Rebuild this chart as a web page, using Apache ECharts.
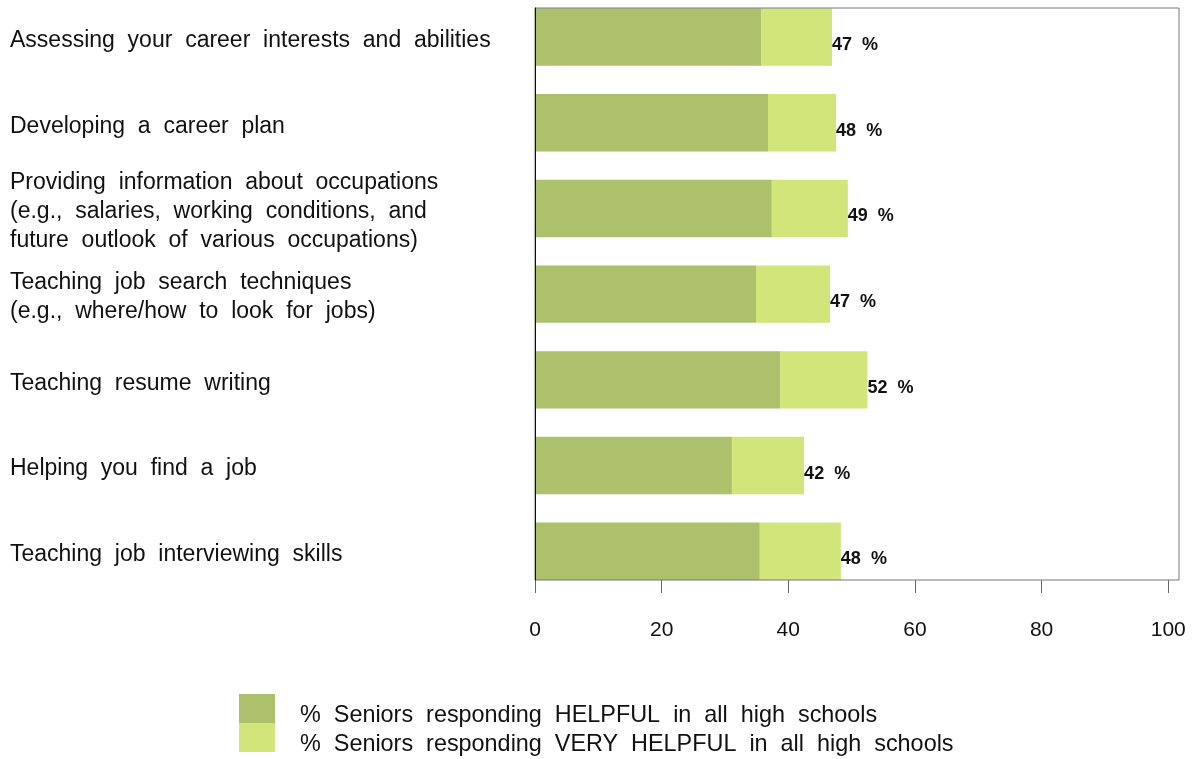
<!DOCTYPE html>
<html>
<head>
<meta charset="utf-8">
<script src="https://cdn.jsdelivr.net/npm/echarts@6/dist/echarts.min.js"></script>
<style>
html,body{margin:0;padding:0;background:#fff;overflow:hidden;width:1195px;height:759px;}
#chart{position:absolute;left:0;top:-20px;width:1195px;height:779px;}
</style>
</head>
<body>
<div id="chart"></div>
<script>
var categories = [
  "Assessing your career interests and abilities",
  "Developing a career plan",
  "Providing information about occupations\n(e.g., salaries, working conditions, and\nfuture outlook of various occupations)",
  "Teaching job search techniques\n(e.g., where/how to look for jobs)",
  "Teaching resume writing",
  "Helping you find a job",
  "Teaching job interviewing skills"
];
var helpful = [35.7, 36.8, 37.4, 34.9, 38.7, 31.1, 35.5];
var veryHelpful = [11.2, 10.75, 12.0, 11.7, 13.8, 11.4, 12.8];
var totalLabels = [47, 48, 49, 47, 52, 42, 48];
var xTicks = [0, 20, 40, 60, 80, 100];
var seriesNames = [
  "% Seniors responding HELPFUL in all high schools",
  "% Seniors responding VERY HELPFUL in all high schools"
];
var colors = ['#adc06b', '#d1e57b'];

var FONT = "'Liberation Sans', Arial, sans-serif";
function spaced(s){ return s.replace(/ /g, '  '); }

var chart = echarts.init(document.getElementById('chart'), null, {renderer:'canvas'});
function legendFor(i, top){
  return {
    orient: 'vertical', left: 239, top: top, padding: 0,
    itemWidth: 36, itemHeight: 29, itemGap: 0, icon: 'rect',
    data: [seriesNames[i]],
    formatter: function(n){ return '{s| }\n{t|' + spaced(n) + '}'; },
    textStyle: {
      fontSize: 23.4, color: '#111', fontFamily: FONT, padding: [0, 0, 0, 20],
      rich: {
        s: {fontSize: 2, lineHeight: 15, height: 15},
        t: {fontSize: 23.4, lineHeight: 27, color: '#111', fontFamily: FONT}
      }
    }
  };
}
chart.setOption({
  backgroundColor: '#ffffff',
  animation: false,
  color: colors,
  textStyle: {fontFamily: FONT},
  grid: [
    {left: 535, right: 16, top: 28, bottom: 179, show: true, borderColor: '#777', borderWidth: 1, z: 5, containLabel: false},
    {left: 535, right: 16, top: 14.15, bottom: 164.85, containLabel: false}
  ],
  xAxis: [
    {
      gridIndex: 0, type: 'value', min: 0, max: 101.7, offset: 2,
      axisLine: {show: false},
      axisTick: {show: true, length: 13, customValues: xTicks, lineStyle: {color: '#666', width: 1}},
      axisLabel: {customValues: xTicks, margin: 38, fontSize: 21, color: '#111', fontFamily: FONT},
      splitLine: {show: false}
    },
    {
      gridIndex: 1, type: 'value', min: 0, max: 101.7,
      axisLine: {show: false}, axisTick: {show: false}, axisLabel: {show: false}, splitLine: {show: false}
    }
  ],
  yAxis: [
    {
      gridIndex: 0, type: 'value', min: 0, max: 1, z: 6,
      axisLine: {show: true, lineStyle: {color: '#111', width: 1}},
      axisTick: {show: false}, axisLabel: {show: false}, splitLine: {show: false}
    },
    {
      gridIndex: 1, type: 'category', inverse: true, data: categories,
      axisLine: {show: false}, axisTick: {show: false}, splitLine: {show: false},
      axisLabel: {
        align: 'left', margin: 525, fontSize: 23, lineHeight: 29, color: '#111', fontFamily: FONT,
        formatter: function(v){ return '{s| }\n{t|' + spaced(v) + '}'; },
        rich: {
          s: {fontSize: 2, lineHeight: 7, height: 7},
          t: {fontSize: 23, lineHeight: 29, color: '#111', fontFamily: FONT}
        }
      }
    }
  ],
  legend: [legendFor(0, 707.5), legendFor(1, 736.5)],
  series: [
    {
      name: seriesNames[0], type: 'bar', stack: 'a', xAxisIndex: 1, yAxisIndex: 1,
      data: helpful, barCategoryGap: '33%',
      itemStyle: {color: colors[0]}
    },
    {
      name: seriesNames[1], type: 'bar', stack: 'a', xAxisIndex: 1, yAxisIndex: 1,
      data: veryHelpful, barCategoryGap: '33%',
      itemStyle: {color: colors[1]},
      label: {
        show: true, position: 'right', distance: 0, offset: [0, 8],
        fontSize: 18, fontWeight: 'bold', color: '#111', fontFamily: FONT,
        formatter: function(p){ return totalLabels[p.dataIndex] + '  %'; }
      }
    }
  ]
});
</script>
</body>
</html>
